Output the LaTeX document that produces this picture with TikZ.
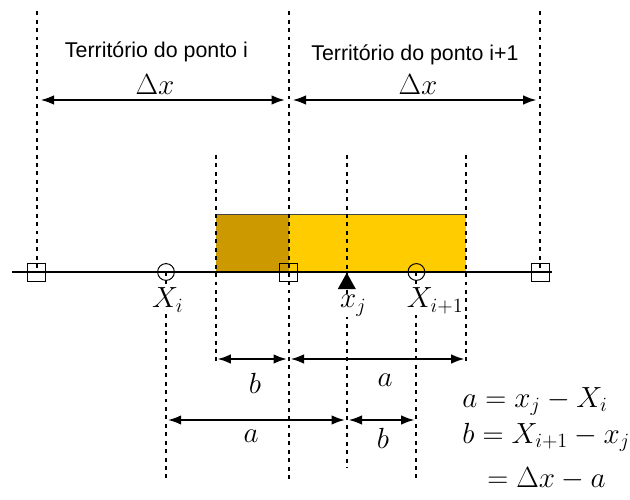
\documentclass[tikz,border=0pt]{standalone}
\usepackage{amsmath}
\usepackage{fontspec}
\setsansfont{Liberation Sans}
\usetikzlibrary{arrows.meta,positioning,calc}
\definecolor{ink}{HTML}{000000}
\definecolor{edgegray}{HTML}{444444}
\definecolor{ochre}{HTML}{CC9900}
\definecolor{gold}{HTML}{FFCC00}
\tikzset{
  >={Latex[length=3.4mm,width=2.4mm]},
  guide/.style={line width=1.5pt,dash pattern=on 2.8pt off 3.2pt,color=ink},
  dim/.style={<->,line width=1.7pt,color=ink,shorten <=.4mm,shorten >=.4mm},
  axisline/.style={line width=2pt,color=ink},
  facebox/.style={draw=ink,line width=.7pt,minimum size=4.5mm,inner sep=0pt},
  centre/.style={circle,draw=ink,line width=.7pt,minimum size=4.2mm,inner sep=0pt},
  mathlbl/.style={font=\fontsize{22}{26}\selectfont,inner sep=0pt},
  terr/.style={font=\sffamily\fontsize{15.2}{18}\selectfont,inner sep=0pt,anchor=base},
}
\begin{document}
\begin{tikzpicture}[x=1cm,y=1cm]
  \useasboundingbox (0,0) rectangle (15.75,-12.5);

  % cell of the moving point x_j
  \fill[ochre] (5.39,-5.35) rectangle (7.22,-6.8);
  \fill[gold] (7.22,-5.35) rectangle (11.66,-6.8);
  \draw[edgegray,line width=.6pt] (5.39,-5.35) -- (11.66,-5.35);

  % faces and centres on the axis
  \node[facebox] (f0) at (0.92,-6.8) {};
  \node[facebox] (f1) at (7.22,-6.8) {};
  \node[facebox] (f2) at (13.51,-6.8) {};
  \node[centre] (Xi) at (4.15,-6.8) {};
  \node[centre] (Xii) at (10.41,-6.8) {};
  \coordinate (xj) at (8.67,-6.8);

  \coordinate (t0) at (0.92,-0.28);
  \coordinate (t1) at (7.22,-0.28);
  \coordinate (t2) at (13.51,-0.28);
  \coordinate (u0) at (5.39,-3.875);
  \coordinate (uj) at (8.67,-3.875);
  \coordinate (u1) at (11.66,-3.875);
  \coordinate (b0) at (5.39,-9.1);
  \coordinate (b1) at (11.66,-9.1);
  \coordinate (bj) at (8.67,-11.7);
  \coordinate (bXi) at (4.15,-12.05);
  \coordinate (bm) at (7.22,-12.05);
  \coordinate (bXii) at (10.41,-12.05);

  % dashed guides
  \draw[guide] (t0) -- (f0.center);
  \draw[guide] (t1) -- (bm);
  \draw[guide] (t2) -- (f2.center);
  \draw[guide] (u0) -- (b0);
  \draw[guide] (uj) -- (bj);
  \draw[guide] (u1) -- (b1);
  \draw[guide] (Xi.center) -- (bXi);
  \draw[guide] (Xii.center) -- (bXii);

  \coordinate (axL) at (0.30,-6.8);
  \coordinate (axR) at (13.80,-6.8);
  \draw[axisline] (axL) -- (axR);
  \fill[ink] (8.67,-6.82) -- (8.445,-7.225) -- (8.895,-7.225) -- cycle;

  \node[mathlbl,anchor=base west,fill=white,inner sep=.5pt] (lXi) at (3.78,-7.7) {$X_i$};
  \node[mathlbl,anchor=base west,fill=white,inner sep=.5pt] (lxj) at (8.48,-7.7) {$x_j$};
  \node[mathlbl,anchor=base west,fill=white,inner sep=.5pt] (lXii) at (10.15,-7.7) {$X_{i+1}$};

  % territories
  \node[terr] (ti) at (3.91,-1.45) {Território do ponto i};
  \node[terr] (tii) at (10.375,-1.52) {Território do ponto i+1};
  \coordinate (dy) at (0,-2.5);
  \draw[dim,shorten <=.9mm,shorten >=.9mm] (t0 |- dy) -- (t1 |- dy);
  \draw[dim,shorten <=.9mm,shorten >=.9mm] (t1 |- dy) -- (t2 |- dy);
  \node[mathlbl,anchor=base] (dxi) at (3.875,-2.375) {$\Delta x$};
  \node[mathlbl,anchor=base] (dxii) at (10.45,-2.375) {$\Delta x$};

  % distances below the axis
  \coordinate (r1) at (0,-8.975);
  \coordinate (r2) at (0,-10.5);
  \draw[dim] (u0 |- r1) -- (t1 |- r1);
  \draw[dim] (t1 |- r1) -- (u1 |- r1);
  \draw[dim] (Xi |- r2) -- (uj |- r2);
  \draw[dim] (uj |- r2) -- (Xii |- r2);
  \node[mathlbl,anchor=base] (lb1) at (6.375,-9.825) {$b$};
  \node[mathlbl,anchor=base] (la1) at (9.625,-9.65) {$a$};
  \node[mathlbl,anchor=base] (la2) at (6.275,-11.05) {$a$};
  \node[mathlbl,anchor=base] (lb2) at (9.575,-11.2) {$b$};

  \node[mathlbl,anchor=base west] (eqa) at (11.55,-10.175) {$a = x_j - X_i$};
  \node[mathlbl,anchor=base west] (eqb) at (11.55,-11.075) {$b = X_{i+1} - x_j$};
  \node[mathlbl,anchor=base west] (eqc) at (12.175,-12.175) {$= \Delta x - a$};
\end{tikzpicture}
\end{document}
